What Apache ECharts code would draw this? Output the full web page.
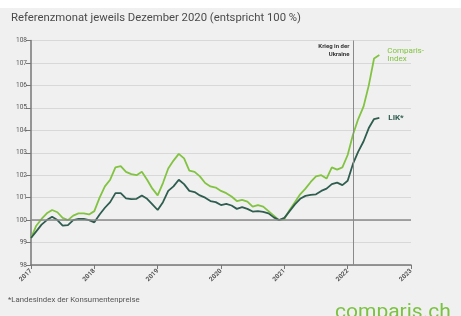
<!DOCTYPE html>
<html>
<head>
<meta charset="utf-8">
<script src="https://cdn.jsdelivr.net/npm/echarts@6/dist/echarts.min.js"></script>
<style>
  html, body { margin: 0; padding: 0; background: #f0f0f0; }
  #chart { width: 461px; height: 316px; }
</style>
</head>
<body>
<div id="chart"></div>
<script>
// Monatswerte Jan 2017 – Jul 2022, Referenz Dez 2020 = 100
const startYear = 2017;
const comparis = [
  99.2, 99.75, 100.05, 100.3, 100.45, 100.35, 100.1, 100.0, 100.2, 100.3, 100.3, 100.25,
  100.4, 101.0, 101.5, 101.8, 102.35, 102.4, 102.15, 102.05, 102.0, 102.15, 101.8, 101.4,
  101.1, 101.65, 102.3, 102.65, 102.95, 102.75, 102.2, 102.15, 101.95, 101.65, 101.5, 101.45,
  101.3, 101.2, 101.05, 100.85, 100.9, 100.82, 100.6, 100.67, 100.6, 100.4, 100.2, 100.0,
  100.05, 100.45, 100.8, 101.15, 101.4, 101.7, 101.95, 102.0, 101.85, 102.35, 102.25, 102.35,
  102.9, 103.8, 104.5, 105.05, 106.0, 107.2, 107.35
];
const lik = [
  99.2, 99.5, 99.8, 100.0, 100.15, 100.0, 99.75, 99.78, 100.0, 100.05, 100.05, 100.0,
  99.9, 100.25, 100.55, 100.8, 101.2, 101.2, 100.97, 100.93, 100.95, 101.1, 100.95, 100.7,
  100.45, 100.8, 101.3, 101.5, 101.8, 101.6, 101.3, 101.25, 101.1, 101.0, 100.85, 100.8,
  100.67, 100.72, 100.65, 100.5, 100.58, 100.5, 100.38, 100.4, 100.37, 100.3, 100.12, 100.0,
  100.1, 100.4, 100.7, 100.95, 101.08, 101.12, 101.15, 101.3, 101.4, 101.6, 101.67, 101.56,
  101.75, 102.5, 103.05, 103.5, 104.1, 104.5, 104.55
];
const yearTicks = [2017, 2018, 2019, 2020, 2021, 2022, 2023];
const warDate = 2022.09;   // Kriegsbeginn (Lage der senkrechten Linie)
const refValue = 100;

const green = '#82c341';
const dark = '#2f5d50';

const toPoints = arr => arr.map((v, i) => [startYear + i / 12, v]);

const chart = echarts.init(document.getElementById('chart'));
chart.setOption({
  backgroundColor: '#f0f0f0',
  animation: false,
  grid: { left: 31, right: 50, top: 40.5, bottom: 51 },
  xAxis: {
    type: 'value',
    min: yearTicks[0],
    max: yearTicks[yearTicks.length - 1],
    interval: 1,
    axisLine: { lineStyle: { color: '#777', width: 1.5 } },
    axisTick: { length: 4, lineStyle: { color: '#777' } },
    splitLine: { show: false },
    axisLabel: {
      rotate: 45, fontSize: 6.5, color: '#555', fontWeight: 'bold',
      fontFamily: 'Roboto', margin: 5,
      formatter: v => String(v)
    }
  },
  yAxis: {
    type: 'value',
    min: 98, max: 108, interval: 1,
    axisLine: { show: true, lineStyle: { color: '#777', width: 1.5 } },
    axisTick: { show: true, length: 5, lineStyle: { color: '#777' } },
    splitLine: { lineStyle: { color: '#d8d8d8', width: 1 } },
    axisLabel: { fontSize: 6.5, color: '#555', fontFamily: 'Roboto', margin: 4 }
  },
  series: [
    {
      name: 'Comparis-Index',
      type: 'line',
      data: toPoints(comparis),
      showSymbol: false,
      lineStyle: { color: green, width: 1.8 },
      itemStyle: { color: green },
      endLabel: {
        show: true, formatter: 'Comparis-\nIndex', color: green,
        fontSize: 8, fontFamily: 'Roboto', lineHeight: 8, distance: 8
      },
      z: 3
    },
    {
      name: 'LIK*',
      type: 'line',
      data: toPoints(lik),
      showSymbol: false,
      lineStyle: { color: dark, width: 1.8 },
      itemStyle: { color: dark },
      endLabel: {
        show: true, formatter: 'LIK*', color: dark,
        fontSize: 8, fontFamily: 'Roboto', fontWeight: 'bold', distance: 9
      },
      markLine: {
        silent: true,
        symbol: 'none',
        label: { show: false },
        data: [
          { yAxis: refValue, lineStyle: { color: '#8a8a8a', width: 1.5, type: 'solid' } },
          { xAxis: warDate, lineStyle: { color: '#8a8a8a', width: 1, type: 'solid' } }
        ]
      },
      z: 4
    }
  ]
});

// Beschriftung der Kriegslinie über die Achsenskala positionieren
const warPx = chart.convertToPixel({ gridIndex: 0 }, [warDate, 108]);

chart.setOption({
  graphic: [
    { type: 'rect', left: 0, top: 0, shape: { width: 461, height: 8 }, style: { fill: '#ffffff' }, silent: true },
    {
      type: 'text', left: 11, top: 13,
      style: {
        text: 'Referenzmonat jeweils Dezember 2020 (entspricht 100 %)',
        fill: '#4a4a4a', font: '11.3px Roboto'
      }
    },
    {
      type: 'text', x: warPx[0] - 4, y: warPx[1] + 2,
      style: {
        text: 'Krieg in der\nUkraine', fill: '#333', align: 'right',
        font: 'bold 6px Roboto', lineHeight: 8
      }
    },
    {
      type: 'text', left: 8, top: 296,
      style: { text: '*Landesindex der Konsumentenpreise', fill: '#555', font: '7.8px Roboto' }
    },
    {
      type: 'text', left: 335, top: 302,
      style: { text: 'comparis.ch', fill: '#7cc242', font: '21px Roboto' }
    }
  ]
});

window.addEventListener('resize', () => chart.resize());
</script>
</body>
</html>
